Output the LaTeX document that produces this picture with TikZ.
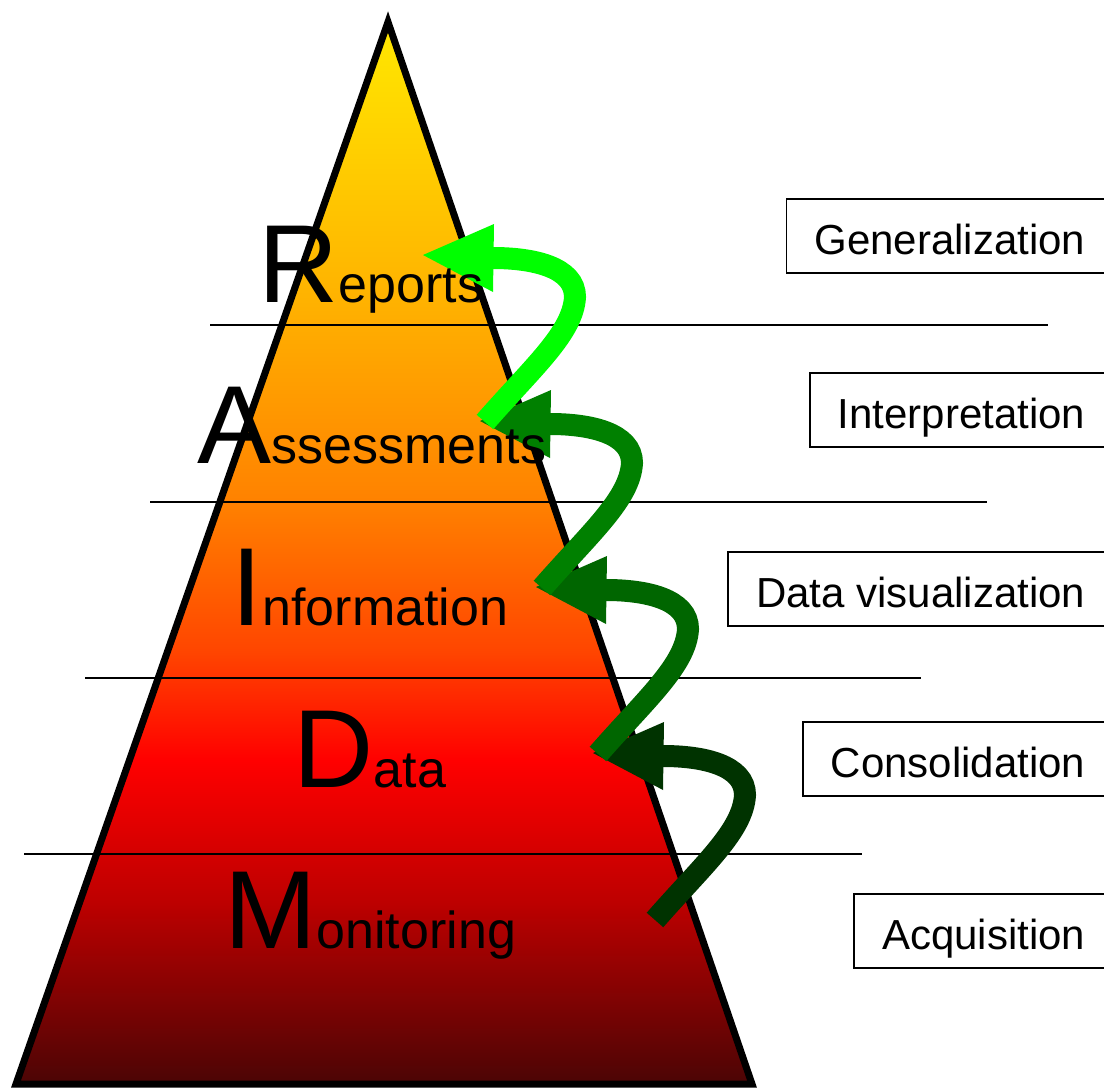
\documentclass[tikz,border=0pt]{standalone}
\usepackage{fontspec}
\setmainfont{Liberation Sans}
\definecolor{pc0}{RGB}{75,5,5}
\definecolor{pc1}{RGB}{190,0,0}
\definecolor{pc2}{RGB}{255,0,0}
\definecolor{pc3}{RGB}{255,70,0}
\definecolor{pc4}{RGB}{255,130,0}
\definecolor{pc5}{RGB}{255,178,0}
\definecolor{pc6}{RGB}{255,232,0}
\definecolor{arA}{RGB}{0,255,0}
\definecolor{arB}{RGB}{0,128,0}
\definecolor{arC}{RGB}{0,102,0}
\definecolor{arD}{RGB}{0,51,0}
\pgfdeclareverticalshading{pyrshade}{100bp}{color(0bp)=(pc0); color(25bp)=(pc0); color(33.66bp)=(pc1); color(40.25bp)=(pc2); color(45.43bp)=(pc3); color(52.5bp)=(pc4); color(61.9bp)=(pc5); color(75bp)=(pc6); color(100bp)=(pc6)}
\newcommand{\bigLetter}[1]{{\fontsize{111}{111}\selectfont #1}}
\newcommand{\radArrow}[2]{%
  \begin{scope}[shift={(#1)}]
    \draw[color=#2, line width=22pt, line cap=butt] (62,167) .. controls (110,112) and (150,78) .. (152,42) .. controls (152,12) and (110,3) .. (70,3);
    \fill[#2] (0,0) -- (71,-31) -- (70,37) -- cycle;
  \end{scope}}
\tikzset{
  sepline/.style={draw=black, line width=1.6pt},
  word/.style={inner sep=0pt, anchor=base, font=\fontsize{52}{52}\selectfont},
  lbl/.style={draw=black, line width=1.5pt, fill=white, inner xsep=28pt, inner ysep=0pt,
    text height=55pt, text depth=19pt, anchor=base east, font=\fontsize{42}{42}\selectfont}
}
\begin{document}
\begin{tikzpicture}[x=1pt, y=-1pt]
\useasboundingbox (0,0) rectangle (1104,1088);
% pyramid
\coordinate (apex) at (388,22);
\coordinate (bl) at (16,1084);
\coordinate (br) at (752,1084);
\path[shading=pyrshade, draw=black, line width=7pt, line join=miter] (apex) -- (br) -- (bl) -- cycle;
% separator lines
\coordinate (s1a) at (210,325); \coordinate (s1b) at (1048,325);
\coordinate (s2a) at (150,502); \coordinate (s2b) at (987,502);
\coordinate (s3a) at (85,678);  \coordinate (s3b) at (921,678);
\coordinate (s4a) at (24,854);  \coordinate (s4b) at (862,854);
\draw[sepline] (s1a) -- (s1b);
\draw[sepline] (s2a) -- (s2b);
\draw[sepline] (s3a) -- (s3b);
\draw[sepline] (s4a) -- (s4b);
% arrows
\coordinate (tipR) at (423,255);
\coordinate (tipA) at (480,421);
\coordinate (tipI) at (536,587);
\coordinate (tipD) at (593,753);
\radArrow{tipD}{arD}
\radArrow{tipI}{arC}
\radArrow{tipA}{arB}
\radArrow{tipR}{arA}
% words
\node[word] (rep) at (371,302) {\bigLetter{R}eports};
\node[word] (ass) at (372,463) {\bigLetter{A}ssessments};
\node[word] (inf) at (370,625) {\bigLetter{I}nformation};
\node[word] (dat) at (370,787) {\bigLetter{D}ata};
\node[word] (mon) at (370,948) {\bigLetter{M}onitoring};
% labels
\node[lbl] (gen) at (1114,254) {Generalization};
\node[lbl] (int) at (1114,428) {Interpretation};
\node[lbl] (vis) at (1114,607) {Data visualization};
\node[lbl] (con) at (1114,777) {Consolidation};
\node[lbl] (acq) at (1114,949) {Acquisition};
\end{tikzpicture}
\end{document}
